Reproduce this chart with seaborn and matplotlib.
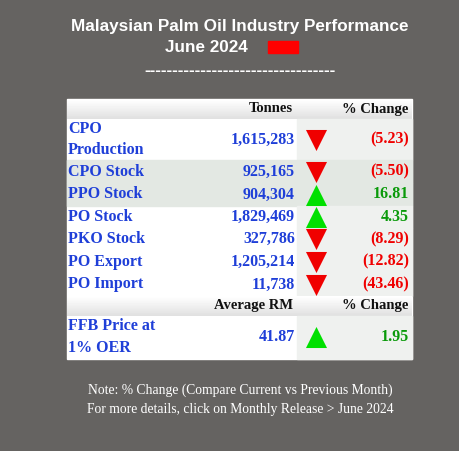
import matplotlib
matplotlib.use("Agg")
import matplotlib.pyplot as plt
import numpy as np
import seaborn as sns

# ── data ──
labels = ["CPO\nProduction", "CPO Stock", "PPO Stock", "PO Stock", "PKO Stock", "PO Export", "PO Import"]
tonnes = ["1,615,283", "925,165", "904,304", "1,829,469", "327,786", "1,205,214", "11,738"]
changes = [-5.23, -5.50, 16.81, 4.35, -8.29, -12.82, -43.46]
ffb_label = "FFB Price at\n1% OER"
ffb_price = "41.87"
ffb_change = 1.95

sns.set_theme(style="white")
plt.rcParams["font.family"] = ["Liberation Serif", "DejaVu Serif"]

BG = "#656361"
BLUE = "#1f3fd8"
RED = "#f00000"
GREEN = "#0a9a0a"
FS = 11.5

fig = plt.figure(figsize=(4.6, 4.51), dpi=100)
fig.patch.set_facecolor(BG)
ax = fig.add_axes([0, 0, 1, 1])
ax.set_xlim(0, 460)
ax.set_ylim(451, 0)
ax.axis("off")

sans = ["Liberation Sans", "DejaVu Sans"]
ax.text(240, 27, "Malaysian Palm Oil Industry Performance", color="white", fontsize=12.3,
        fontweight="bold", family=sans, ha="center", va="center")
ax.text(206, 47, "June 2024", color="white", fontsize=12.3, fontweight="bold",
        family=sans, ha="center", va="center")
ax.add_patch(plt.Rectangle((268, 41), 30, 12, color="#ff0000"))
ax.text(240, 71, "-" * 34, color="white", fontsize=12.3, fontweight="bold",
        family=sans, ha="center", va="center")

L, R, SPLIT = 67, 412, 297
rows = [(119, 160), (160, 183), (183, 206), (206, 228), (228, 250), (250, 273), (273, 296)]
shaded = [False, True, True, False, False, False, False]

ax.add_patch(plt.Rectangle((L, 99), R - L, 260, color="white"))


def header(y0, y1, mid_text):
    grad = np.linspace(1.0, 0.88, 20).reshape(-1, 1)
    ax.imshow(grad, cmap="gray", vmin=0, vmax=1, extent=(L, R, y1, y0), aspect="auto", zorder=1)
    ax.text(SPLIT - 4, (y0 + y1) / 2, mid_text, fontsize=10.5, fontweight="bold",
            ha="right", va="center", color="#111111", zorder=3)
    ax.text(R - 4, (y0 + y1) / 2, "% Change", fontsize=10.5, fontweight="bold",
            ha="right", va="center", color="#111111", zorder=3)


header(99, 119, "Tonnes")
for (y0, y1), lab, val, ch, sh in zip(rows, labels, tonnes, changes, shaded):
    if sh:
        ax.add_patch(plt.Rectangle((L, y0), R - L, y1 - y0, color="#e3e8e3", zorder=1))
    else:
        ax.add_patch(plt.Rectangle((SPLIT, y0), R - SPLIT, y1 - y0, color="#eff1ef", zorder=1))
    ym = (y0 + y1) / 2
    ax.text(L + 1, ym, lab, fontsize=FS, fontweight="bold", color=BLUE, ha="left",
            multialignment="left", va="center", linespacing=1.45, zorder=3)
    ax.text(SPLIT - 2, ym, val, fontsize=FS, fontweight="bold", color=BLUE, ha="right",
            va="center", zorder=3)
    up = ch > 0
    ax.scatter([316], [ym], marker="^" if up else "v", s=230,
               color="#00e000" if up else RED, zorder=3, linewidths=0)
    txt = f"{ch:.2f}" if up else f"({abs(ch):.2f})"
    ax.text(R - 3, ym, txt, fontsize=FS, fontweight="bold", color=GREEN if up else RED,
            ha="right", va="center", zorder=3)

header(296, 316, "Average RM")
ax.add_patch(plt.Rectangle((SPLIT, 316), R - SPLIT, 43, color="#eff1ef", zorder=1))
ax.text(L + 1, 337, ffb_label, fontsize=FS, fontweight="bold", color=BLUE, ha="left",
        multialignment="left", va="center", linespacing=1.55, zorder=3)
ax.text(SPLIT - 2, 337, ffb_price, fontsize=FS, fontweight="bold", color=BLUE,
        ha="right", va="center", zorder=3)
ax.scatter([316], [337], marker="^", s=230, color="#00e000", zorder=3, linewidths=0)
ax.text(R - 3, 337, f"{ffb_change:.2f}", fontsize=FS, fontweight="bold", color=GREEN,
        ha="right", va="center", zorder=3)

ax.text(240, 390, "Note: % Change (Compare Current vs Previous Month)", color="white",
        fontsize=9.8, ha="center", va="center")
ax.text(240, 409, "For more details, click on Monthly Release > June 2024", color="white",
        fontsize=9.8, ha="center", va="center")

fig.savefig("out.png", dpi=100, facecolor=BG)
